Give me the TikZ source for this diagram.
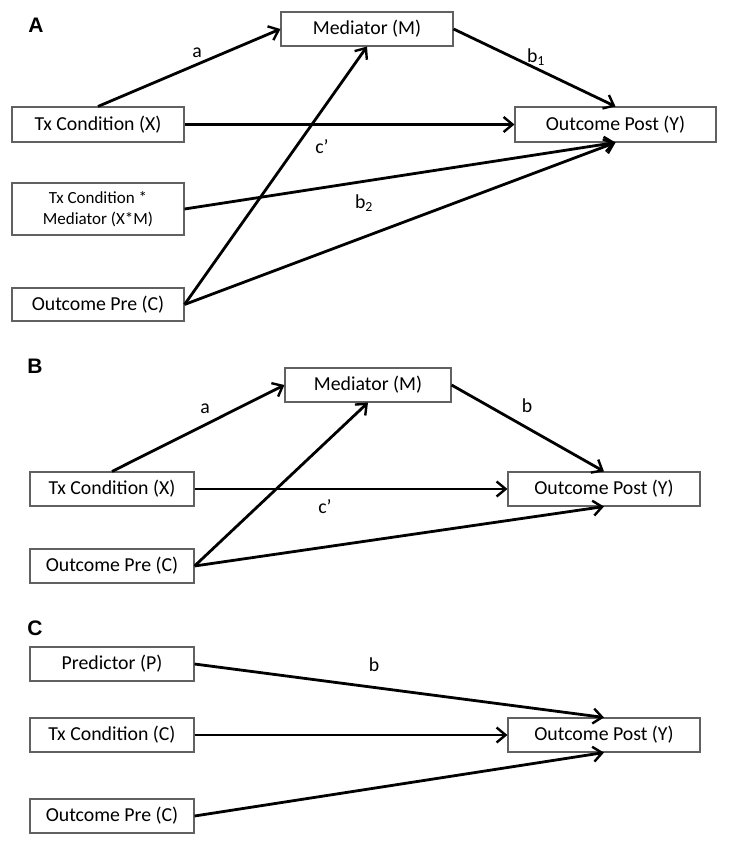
\documentclass[tikz,border=0pt]{standalone}
\usepackage{fontspec}
\setmainfont{Carlito}
\newfontfamily\panelfont{Liberation Sans}
\usetikzlibrary{arrows.meta}
\begin{document}
\begin{tikzpicture}[x=1pt,y=-1pt,
  box/.style={draw=black!62,line width=1.1pt,fill=white,inner sep=0pt,font=\fontsize{19.8}{22}\selectfont},
  smallbox/.style={box,font=\fontsize{17}{21}\selectfont,align=center},
  conn/.style={line width=2.8pt,-{Straight Barb[length=9pt,width=15pt,line width=2.4pt]}},
  lbl/.style={inner sep=0pt,font=\fontsize{19.8}{22}\selectfont},
  panel/.style={inner sep=0pt,font=\panelfont\bfseries\fontsize{21}{24}\selectfont}]
\useasboundingbox[fill=white] (0,0) rectangle (728,845);

% ---------- Panel A ----------
\node[panel] (pA) at (36,25) {A};
\node[box,minimum width=172pt,minimum height=34pt] (aM) at (367,29) {Mediator (M)};
\node[box,minimum width=172pt,minimum height=35pt] (aX) at (98,124.5) {Tx Condition (X)};
\node[smallbox,minimum width=172pt,minimum height=52pt] (aXM) at (98,209) {Tx Condition *\\Mediator (X*M)};
\node[box,minimum width=172pt,minimum height=33pt] (aC) at (98,304.5) {Outcome Pre (C)};
\node[box,minimum width=201pt,minimum height=35pt] (aY) at (615.5,124.5) {Outcome Post (Y)};

\draw[conn] (aX.north) -- (aM.west);
\draw[conn] (aM.east) -- (aY.north);
\draw[conn] (aX.east) -- (aY.west);
\draw[conn] (aXM.east) -- (aY.south);
\draw[conn] (aC.east) -- (aM.south);
\draw[conn] (aC.east) -- (aY.south);

\node[lbl] (la) at (197,53) {a};
\node[lbl] (lb1) at (536,57) {b\textsubscript{1}};
\node[lbl] (lc) at (322,147) {c’};
\node[lbl] (lb2) at (364,203) {b\textsubscript{2}};

% ---------- Panel B ----------
\node[panel] (pB) at (35,366) {B};
\node[box,minimum width=166pt,minimum height=34pt] (bM) at (368,385) {Mediator (M)};
\node[box,minimum width=164pt,minimum height=34pt] (bX) at (112,489) {Tx Condition (X)};
\node[box,minimum width=164pt,minimum height=34pt] (bC) at (112,566) {Outcome Pre (C)};
\node[box,minimum width=192pt,minimum height=34pt] (bY) at (604,489) {Outcome Post (Y)};

\draw[conn] (bX.north) -- (bM.west);
\draw[conn] (bM.east) -- (bY.north);
\draw[conn] (bX.east) -- (bY.west);
\draw[conn] (bC.east) -- (bM.south);
\draw[conn] (bC.east) -- (bY.south);

\node[lbl] (lba) at (205,409) {a};
\node[lbl] (lbb) at (527,406) {b};
\node[lbl] (lbc) at (325,507) {c’};

% ---------- Panel C ----------
\node[panel] (pC) at (35,628) {C};
\node[box,minimum width=164pt,minimum height=34pt] (cP) at (112,664) {Predictor (P)};
\node[box,minimum width=164pt,minimum height=34pt] (cT) at (112,735) {Tx Condition (C)};
\node[box,minimum width=164pt,minimum height=34pt] (cC) at (112,816) {Outcome Pre (C)};
\node[box,minimum width=192pt,minimum height=34pt] (cY) at (604,735) {Outcome Post (Y)};

\draw[conn] (cP.east) -- (cY.north);
\draw[conn] (cT.east) -- (cY.west);
\draw[conn] (cC.east) -- (cY.south);

\node[lbl] (lcb) at (374,665) {b};
\end{tikzpicture}
\end{document}
